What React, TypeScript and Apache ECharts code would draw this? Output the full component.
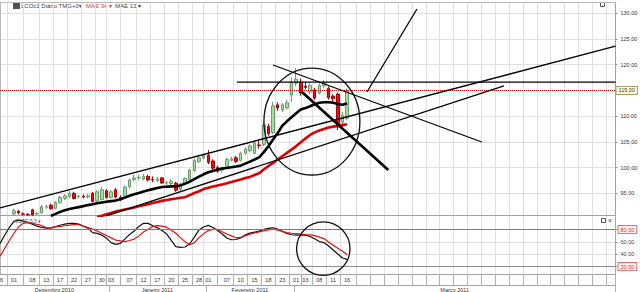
import React, { useEffect, useRef } from 'react';
import * as echarts from 'echarts';

// ---------- data ----------
const dates: string[] = [
  '2010-11-26', '2010-11-29', '2010-11-30',
  '2010-12-01', '2010-12-02', '2010-12-03', '2010-12-06', '2010-12-08', '2010-12-09', '2010-12-10',
  '2010-12-13', '2010-12-14', '2010-12-15', '2010-12-17', '2010-12-20', '2010-12-21', '2010-12-22',
  '2010-12-23', '2010-12-24', '2010-12-27', '2010-12-28', '2010-12-29', '2010-12-30', '2010-12-31',
  '2011-01-03', '2011-01-04', '2011-01-05', '2011-01-06', '2011-01-07', '2011-01-10', '2011-01-11',
  '2011-01-12', '2011-01-13', '2011-01-14', '2011-01-17', '2011-01-18', '2011-01-19', '2011-01-20',
  '2011-01-21', '2011-01-24', '2011-01-25', '2011-01-26', '2011-01-27', '2011-01-28', '2011-01-31',
  '2011-02-01', '2011-02-02', '2011-02-03', '2011-02-04', '2011-02-07', '2011-02-08', '2011-02-09',
  '2011-02-10', '2011-02-11', '2011-02-14', '2011-02-15', '2011-02-16', '2011-02-17', '2011-02-18',
  '2011-02-21', '2011-02-22', '2011-02-23', '2011-02-24', '2011-02-25',
  '2011-03-01', '2011-03-02', '2011-03-03', '2011-03-04', '2011-03-07', '2011-03-08', '2011-03-09',
  '2011-03-10', '2011-03-11', '2011-03-14', '2011-03-15', '2011-03-16',
];
const futureSlots = 58;

// [open, close, low, high]
const candles: number[][] = [
  [86.0, 86.6, 85.7, 87.0], [86.6, 87.3, 86.3, 87.8], [87.4, 88.9, 87.2, 89.5],
  [91.0, 91.6, 90.6, 92.0], [91.5, 91.2, 90.9, 91.8], [91.0, 90.95, 90.7, 91.3], [90.9, 90.8, 90.7, 91.2],
  [91.8, 90.8, 90.7, 92.0], [91.0, 91.1, 90.8, 91.4], [91.2, 92.4, 91.0, 92.7], [92.3, 92.4, 92.0, 92.8],
  [92.7, 92.0, 91.8, 93.0], [92.1, 93.2, 91.9, 93.5], [93.2, 94.2, 93.0, 94.5], [94.0, 94.5, 93.7, 94.8],
  [94.4, 95.0, 94.1, 95.4], [95.0, 94.0, 93.8, 95.3], [94.3, 94.4, 94.0, 94.7], [94.4, 94.3, 94.0, 94.8],
  [94.3, 94.5, 94.0, 94.9], [95.0, 93.4, 93.2, 95.3], [93.5, 95.3, 93.3, 95.6], [93.8, 95.7, 93.6, 96.2],
  [95.5, 94.2, 94.0, 95.8], [94.2, 95.3, 94.0, 95.6], [95.7, 94.3, 94.0, 96.0], [94.2, 93.9, 93.5, 94.6],
  [94.4, 96.2, 94.2, 96.5], [96.3, 97.6, 96.0, 97.9], [97.7, 98.0, 97.4, 98.6], [98.0, 98.1, 97.6, 98.6],
  [97.8, 98.3, 97.5, 98.8], [98.3, 97.6, 97.3, 98.6], [97.7, 97.6, 97.2, 98.3], [97.5, 97.8, 97.2, 98.2],
  [98.0, 97.0, 96.8, 98.2], [97.0, 97.05, 96.6, 97.4], [96.9, 97.3, 96.6, 97.8], [97.0, 95.6, 95.3, 97.2],
  [95.8, 96.8, 95.4, 97.1], [96.8, 97.9, 96.5, 98.1], [97.7, 99.5, 97.5, 99.8], [99.4, 101.4, 99.2, 101.7],
  [101.2, 101.9, 100.9, 102.2], [101.9, 102.4, 101.6, 102.8], [102.4, 101.0, 100.7, 103.4], [101.3, 99.9, 99.5, 101.6],
  [100.0, 99.3, 99.0, 100.4], [99.5, 99.7, 99.0, 100.2], [100.2, 101.6, 100.0, 101.9], [101.4, 101.7, 101.2, 102.1],
  [101.9, 101.2, 100.9, 102.3], [101.4, 102.8, 101.2, 103.1], [102.8, 103.6, 102.5, 103.9], [103.3, 104.2, 103.0, 104.5],
  [102.8, 104.8, 102.6, 105.2], [104.4, 104.3, 103.7, 105.3], [104.5, 108.3, 104.2, 108.8], [108.0, 106.6, 106.2, 108.5],
  [106.8, 112.0, 106.5, 112.8], [112.2, 111.6, 111.0, 112.7], [111.2, 112.2, 110.8, 112.6], [111.6, 112.6, 111.3, 113.2],
  [114.1, 116.6, 112.8, 117.5], [116.4, 117.2, 115.8, 119.3], [116.6, 114.5, 114.0, 117.3], [115.8, 115.6, 115.2, 116.6],
  [114.7, 116.0, 114.3, 116.4], [115.1, 113.5, 113.2, 115.5], [114.5, 116.0, 114.2, 116.4], [115.9, 116.5, 115.5, 117.0],
  [115.4, 113.6, 113.2, 115.8], [113.9, 113.4, 112.8, 114.3], [114.3, 107.9, 107.3, 114.6], [108.8, 110.2, 107.6, 110.8],
  [109.6, 115.0, 109.2, 115.4],
];

const mae13: (number | null)[] = [
  null, null, null, null, null, null, null, null, null, null, null,
  90.6, 91.0, 91.39, 91.72, 91.95, 92.13, 92.32, 92.51, 92.71, 92.88, 93.07, 93.21, 93.35, 93.49, 93.62,
  93.84, 94.17, 94.52, 94.81, 95.08, 95.34, 95.61, 95.82, 96.03, 96.23, 96.29, 96.35, 96.38, 96.54, 96.89,
  97.26, 97.75, 98.23, 98.7, 99.09, 99.36, 99.61, 99.81, 99.94, 100.08, 100.21, 100.39, 100.78, 101.17,
  101.58, 102.0, 103.01, 104.16, 105.48, 106.71, 108.15, 109.0, 109.78, 110.56, 111.28, 111.57, 111.94,
  112.33, 112.6, 112.72, 112.72, 112.6, 112.37, 112.21, 112.48,
];

const mae34: (number | null)[] = [
  null, null, null, null, null, null, null, null, null, null, null, null, null, null, null, null, null,
  null, null, null, null,
  90.4, 90.65, 90.92, 91.17, 91.45, 91.68, 91.87, 92.05, 92.26, 92.48, 92.69, 92.9, 93.1, 93.31, 93.53,
  93.72, 93.86, 93.99, 94.13, 94.25, 94.65, 95.06, 95.41, 95.82, 96.09, 96.31, 96.5, 96.73, 96.95, 97.22,
  97.44, 97.69, 97.96, 98.19, 98.56, 98.91, 99.63, 100.31, 100.93, 101.58, 102.22, 102.86, 103.5, 104.18,
  104.92, 105.64, 106.36, 106.86, 107.23, 107.52, 107.8, 107.97, 108.11, 108.26, 108.44,
];

const stochK: number[] = [
  57.0, 70.8, 83.2, 93.3, 95.2, 93.6, 91.7, 88.8, 85.4, 83.6, 82.4, 82.8, 85.0, 87.0, 88.8, 90.1, 90.1, 88.9,
  85.7, 82.3, 75.1, 73.8, 71.1, 66.1, 58.9, 56.0, 57.5, 64.9, 72.1, 77.6, 84.9, 90.1, 90.1, 86.3, 82.8, 78.4,
  73.0, 62.6, 52.4, 51.3, 51.8, 57.0, 67.8, 79.5, 84.1, 86.8, 83.4, 78.4, 72.9, 66.4, 63.5, 63.9, 66.4, 71.4,
  74.3, 75.8, 77.6, 80.2, 82.1, 82.9, 81.0, 77.4, 73.8, 71.6, 71.1, 71.1, 71.1, 68.8, 65.1, 60.5, 58.9, 53.4,
  46.9, 40.4, 34.0, 31.8,
];

const stochD: number[] = [
  36.7, 49.4, 61.8, 74.0, 84.2, 90.1, 91.2, 90.5, 88.3, 86.6, 83.4, 82.3, 84.4, 85.2, 86.2, 87.1, 88.1, 87.8,
  85.4, 83.1, 80.8, 77.7, 74.0, 70.3, 66.5, 63.0, 61.7, 60.4, 62.3, 64.6, 69.8, 76.1, 80.6, 84.9, 86.5, 85.5,
  83.9, 79.0, 74.0, 66.9, 60.1, 55.5, 58.8, 67.0, 73.4, 78.4, 80.3, 80.2, 76.6, 72.9, 69.8, 66.7, 67.5, 69.8,
  72.4, 74.6, 76.3, 77.9, 79.5, 80.8, 79.2, 76.8, 75.1, 74.0, 73.4, 72.7, 71.9, 71.4, 70.3, 67.7, 65.4, 59.9,
  54.7, 49.7, 44.8, 39.3,
];

const dayLabelDates: string[] = [
  '2010-11-26', '2010-12-01', '2010-12-08', '2010-12-13', '2010-12-17', '2010-12-22', '2010-12-27',
  '2010-12-30', '2011-01-03', '2011-01-07', '2011-01-12', '2011-01-17', '2011-01-20', '2011-01-25',
  '2011-01-28', '2011-02-01', '2011-02-07', '2011-02-10', '2011-02-15', '2011-02-18', '2011-02-23',
  '2011-03-01', '2011-03-03', '2011-03-08', '2011-03-11', '2011-03-16',
];
const monthKeys = ['2010-12', '2011-01', '2011-02', '2011-03'];
const monthNames = ['Dezembro 2010', 'Janeiro 2011', 'Fevereiro 2011', 'Março 2011'];

const priceTicks = [95, 100, 105, 110, 115, 120, 125, 130];
const oscTicks = [20, 40, 60, 80];
const oscBands = [80, 20];
const lastClose = 115;

// hand-drawn annotations: [[barIndex, price], [barIndex, price]]
const trendLines: number[][][] = [
  [[0, 92.15], [133, 123.6]],
  [[21.6, 90.2], [108.9, 115.87]],
  [[51.2, 116.64], [133, 116.64]],
  [[59.0, 119.95], [104.1, 104.98]],
  [[79.3, 114.7], [90.1, 130.84]],
];
const boldLines: number[][][] = [
  [[65.2, 114.76], [83.9, 99.53]],
];
// [barIndex, value, radiusInBars, radiusInValue]
const priceCircles = [[67.4, 108.96, 10.37, 10.4]];
const oscCircles = [[69.86, 49.2, 5.77, 43.3]];

// ---------- derived ----------
const N = dates.length + futureSlots;
const maxIdx = N - 1;
const categories = [...dates, ...Array.from({ length: futureSlots }, (_, k) => `f${k + 1}`)];
const labelIdx = dayLabelDates.map((d) => dates.indexOf(d));
const daySeps: number[] = [];
for (let k = 1; k < labelIdx.length; k++) daySeps.push((labelIdx[k - 1] + labelIdx[k]) / 2);
for (let v = labelIdx[labelIdx.length - 1] + 2; v < maxIdx; v += 3) daySeps.push(v);
daySeps.push(maxIdx);
const monthStart = monthKeys.map((k) => dates.findIndex((d) => d.startsWith(k)));
const monthBounds = monthStart.slice(1).map((i) => i - 0.5);
const cellEdges = [0, ...monthBounds, maxIdx];
const monthCenters = monthNames.map((_, k) => (cellEdges[k] + cellEdges[k + 1]) / 2);

const fmt = (v: number) => v.toFixed(2).replace('.', ',');
const FONT = 'Liberation Sans, Arial, sans-serif';
const GRID = '#e0e0e0';
const AXIS = '#a0a0a0';
const SMALL = 5.5;

const ellipseRender = (_p: any, api: any) => {
  const c = api.coord([api.value(0), api.value(1)]);
  const s = api.size([api.value(2), api.value(3)]);
  return {
    type: 'ellipse',
    shape: { cx: c[0], cy: c[1], rx: s[0], ry: s[1] },
    style: { fill: 'none', stroke: '#111', lineWidth: 1.3 },
  };
};

const lineSeg = (seg: number[][], width: number) => ({
  type: 'line',
  xAxisIndex: 1,
  yAxisIndex: 0,
  data: seg,
  symbol: 'none',
  silent: true,
  lineStyle: { color: '#000', width },
  z: 5,
});

export default function App() {
  const ref = useRef<HTMLDivElement>(null);
  useEffect(() => {
    document.body.style.margin = '0';
    const chart = echarts.init(ref.current!, null, { renderer: 'svg' });
    const option: any = {
      animation: false,
      textStyle: { fontFamily: FONT },
      grid: [
        { left: 0, top: 2, width: 615.5, height: 213.7, outerBoundsMode: 'none', containLabel: false },
        { left: 0, top: 216, width: 615.5, height: 58, outerBoundsMode: 'none', containLabel: false },
      ],
      xAxis: [
        {
          type: 'category', gridIndex: 0, data: categories, boundaryGap: false, position: 'bottom',
          axisLine: { show: true, onZero: false, lineStyle: { color: AXIS } },
          axisTick: { show: false }, axisLabel: { show: false }, splitLine: { show: false },
        },
        {
          type: 'value', gridIndex: 0, min: 0, max: maxIdx, position: 'top',
          axisLine: { show: true, onZero: false, lineStyle: { color: '#b8b8b8' } },
          axisTick: { show: false, customValues: daySeps }, axisLabel: { show: false },
          splitLine: { show: true, lineStyle: { color: GRID, width: 1 } },
        },
        {
          type: 'category', gridIndex: 1, data: categories, boundaryGap: false, position: 'top', show: false,
        },
        {
          type: 'value', gridIndex: 1, min: 0, max: maxIdx, position: 'bottom',
          axisLine: { show: true, onZero: false, lineStyle: { color: AXIS } },
          axisTick: { show: true, customValues: daySeps, length: 11, lineStyle: { color: '#b0b0b0' } },
          axisLabel: {
            customValues: labelIdx, fontSize: SMALL, color: '#333', margin: 3,
            formatter: (v: number) => (dates[Math.round(v)] || '').slice(8, 10),
          },
          splitLine: { show: true, lineStyle: { color: GRID } },
        },
        {
          type: 'value', gridIndex: 1, min: 0, max: maxIdx, position: 'bottom', offset: 11,
          axisLine: { show: true, onZero: false, lineStyle: { color: AXIS } },
          axisTick: { show: true, customValues: [...monthBounds, maxIdx], length: 7, lineStyle: { color: '#b0b0b0' } },
          axisLabel: {
            customValues: monthCenters, fontSize: SMALL, color: '#333', margin: 1.5,
            formatter: (v: number) => {
              const k = monthCenters.findIndex((c) => Math.abs(c - v) < 0.01);
              return k >= 0 ? monthNames[k] : '';
            },
          },
          splitLine: { show: false },
        },
      ],
      yAxis: [
        {
          type: 'value', gridIndex: 0, position: 'right', min: 90.65, max: 132.2,
          axisLine: { show: true, onZero: false, lineStyle: { color: '#999', type: 'dotted' } },
          axisTick: { show: true, customValues: priceTicks, length: 2, lineStyle: { color: '#999' } },
          axisLabel: {
            customValues: priceTicks.filter((v) => v !== lastClose), formatter: fmt,
            fontSize: SMALL, color: '#333', margin: 5,
          },
          splitLine: { show: true, lineStyle: { color: GRID } },
        },
        {
          type: 'value', gridIndex: 1, position: 'right', min: 8, max: 102,
          axisLine: { show: true, onZero: false, lineStyle: { color: '#999', type: 'dotted' } },
          axisTick: { show: true, customValues: oscTicks, length: 2, lineStyle: { color: '#999' } },
          axisLabel: {
            customValues: oscTicks, margin: 3,
            formatter: (v: number) => (oscBands.includes(v) ? `{b|${fmt(v)}}` : `{n|${fmt(v)}}`),
            rich: {
              b: {
                fontSize: SMALL, color: '#cc3333', backgroundColor: '#fff2ef', borderColor: '#e07070',
                borderWidth: 1, padding: [1, 2, 0, 2],
              },
              n: { fontSize: SMALL, color: '#444', padding: [0, 2, 0, 2] },
            },
          },
          splitLine: { show: true, lineStyle: { color: GRID } },
        },
        {
          type: 'value', gridIndex: 0, position: 'left', min: 90.65, max: 132.2,
          axisLine: { show: true, onZero: false, lineStyle: { color: '#b8b8b8' } },
          axisTick: { show: false }, axisLabel: { show: false }, splitLine: { show: false },
        },
        {
          type: 'value', gridIndex: 1, position: 'left', min: 8, max: 102,
          axisLine: { show: true, onZero: false, lineStyle: { color: '#b8b8b8' } },
          axisTick: { show: false }, axisLabel: { show: false }, splitLine: { show: false },
        },
      ],
      series: [
        {
          type: 'candlestick', xAxisIndex: 0, yAxisIndex: 0, data: candles, barWidth: 3,
          itemStyle: {
            color: '#9fe09f', color0: '#dd1111', borderColor: '#6f9a6f', borderColor0: '#b00000', borderWidth: 1,
          },
          markLine: {
            silent: true, symbol: ['none', 'none'],
            data: [{ yAxis: lastClose }],
            lineStyle: { color: '#cc0000', type: 'dotted', width: 1 },
            label: {
              show: true, position: 'end', formatter: fmt(lastClose), fontSize: SMALL, color: '#333',
              backgroundColor: '#ffffe2', borderColor: '#a89a60', borderWidth: 1, padding: [1, 2, 0, 2], distance: 1,
            },
          },
        },
        {
          type: 'line', xAxisIndex: 0, yAxisIndex: 0, data: mae34, symbol: 'none', silent: true,
          lineStyle: { color: '#e00000', width: 2.6 }, z: 3,
        },
        {
          type: 'line', xAxisIndex: 0, yAxisIndex: 0, data: mae13, symbol: 'none', silent: true,
          lineStyle: { color: '#000', width: 2.6 }, z: 3,
        },
        ...trendLines.map((s) => lineSeg(s, 1.3)),
        ...boldLines.map((s) => lineSeg(s, 2.6)),
        {
          type: 'custom', xAxisIndex: 1, yAxisIndex: 0, data: priceCircles, renderItem: ellipseRender,
          silent: true, clip: false, z: 5,
        },
        {
          type: 'line', xAxisIndex: 2, yAxisIndex: 1, data: stochK, symbol: 'none', silent: true,
          lineStyle: { color: '#111', width: 1.2 }, z: 3,
          markLine: {
            silent: true, symbol: ['none', 'none'], label: { show: false },
            data: [
              { yAxis: oscBands[0], lineStyle: { color: '#d85050', width: 1, type: 'solid' } },
              { yAxis: oscBands[1], lineStyle: { color: '#8c8c8c', width: 1, type: 'solid' } },
            ],
          },
        },
        {
          type: 'line', xAxisIndex: 2, yAxisIndex: 1, data: stochD, symbol: 'none', silent: true,
          lineStyle: { color: '#e01010', width: 1.2 }, z: 3,
        },
        {
          type: 'custom', xAxisIndex: 3, yAxisIndex: 1, data: oscCircles, renderItem: ellipseRender,
          silent: true, clip: false, z: 5,
        },
      ],
      graphic: [
        { type: 'rect', x: 13, y: 3, shape: { width: 7, height: 6 }, style: { fill: '#505050' }, silent: true },
        {
          type: 'text', x: 21, y: 6, silent: true,
          style: { text: 'LCOc1 Diário TMG+0▾', fontSize: 6, fontFamily: FONT, fill: '#444', verticalAlign: 'middle' },
        },
        {
          type: 'text', x: 86, y: 6, silent: true,
          style: { text: 'MAE 34 ▾', fontSize: 6, fontFamily: FONT, fill: '#e23030', verticalAlign: 'middle' },
        },
        {
          type: 'text', x: 115, y: 6, silent: true,
          style: { text: 'MAE 13 ▾', fontSize: 6, fontFamily: FONT, fill: '#444', verticalAlign: 'middle' },
        },
        {
          type: 'text', x: 15, y: 220.5, silent: true, z: 10,
          style: { text: 'SSTO 5 5 ▾', fontSize: 5, fontFamily: FONT, fill: '#555', verticalAlign: 'middle' },
        },
        { type: 'rect', x: 600.5, y: 2.5, shape: { width: 4, height: 4 }, style: { fill: 'none', stroke: '#555' }, silent: true },
        { type: 'rect', x: 601.5, y: 218.5, shape: { width: 4, height: 4 }, style: { fill: 'none', stroke: '#555' }, silent: true },
        {
          type: 'text', x: 608, y: 220.5, silent: true,
          style: { text: '×', fontSize: 7, fontFamily: FONT, fill: '#444', verticalAlign: 'middle' },
        },
      ],
    };
    chart.setOption(option);
    return () => chart.dispose();
  }, []);
  return <div ref={ref} style={{ width: 640, height: 292 }} />;
}
